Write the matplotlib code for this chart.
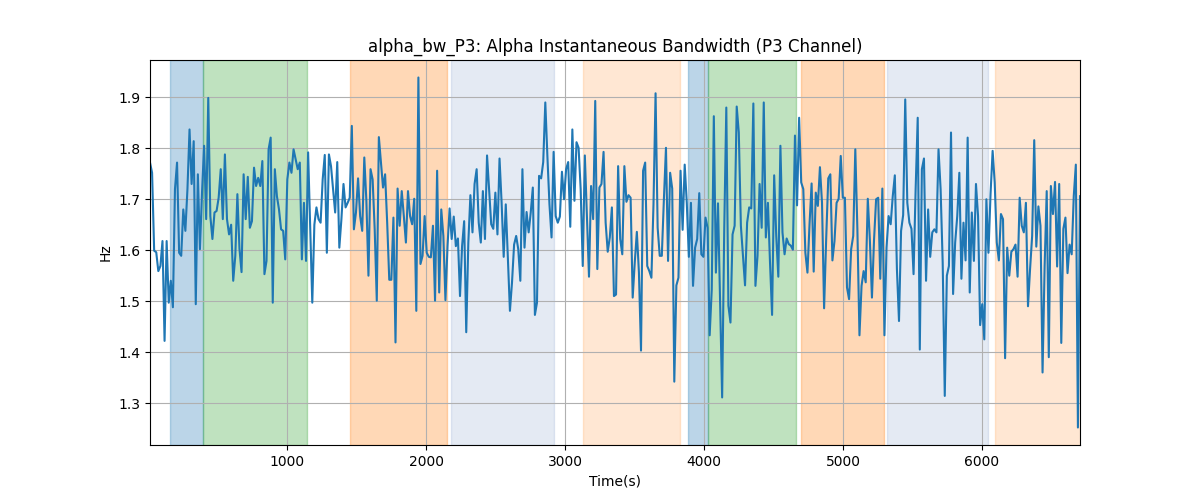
import numpy as np
import matplotlib
matplotlib.use("Agg")
import matplotlib.pyplot as plt

t_start = 14
t_end = 6705

bw_values = [
    1.772, 1.752, 1.599, 1.596, 1.559, 1.569, 1.618, 1.422, 1.618, 1.497, 1.54, 1.488, 1.72, 1.772, 1.595,
    1.589, 1.68, 1.638, 1.72, 1.837, 1.73, 1.814, 1.494, 1.749, 1.602, 1.713, 1.805, 1.661, 1.899, 1.667,
    1.622, 1.674, 1.677, 1.703, 1.759, 1.661, 1.788, 1.661, 1.631, 1.65, 1.54, 1.589, 1.71, 1.603, 1.557,
    1.749, 1.661, 1.744, 1.644, 1.657, 1.762, 1.726, 1.742, 1.726, 1.775, 1.553, 1.579, 1.798, 1.821, 1.497,
    1.759, 1.706, 1.68, 1.641, 1.638, 1.582, 1.739, 1.772, 1.752, 1.798, 1.778, 1.759, 1.772, 1.582, 1.693,
    # segment 2
    1.579, 1.792, 1.648, 1.497, 1.65, 1.684, 1.661, 1.654, 1.739, 1.787, 1.595, 1.788, 1.765, 1.72, 1.674,
    1.773, 1.605, 1.661, 1.73, 1.684, 1.693, 1.703, 1.844, 1.641, 1.674, 1.741, 1.667, 1.638, 1.782, 1.697,
    1.55, 1.759, 1.739, 1.641, 1.501, 1.822, 1.772, 1.723, 1.749, 1.654, 1.542, 1.542, 1.664, 1.419, 1.721,
    1.648, 1.716, 1.667, 1.615, 1.716, 1.667, 1.651, 1.701, 1.481, 1.939, 1.573, 1.589, 1.667, 1.595, 1.587,
    1.586, 1.648, 1.501, 1.756, 1.517, 1.68, 1.628, 1.502, 1.608, 1.682, 1.622, 1.666, 1.608, 1.623, 1.51,
    # segment 3
    1.608, 1.657, 1.439, 1.615, 1.708, 1.635, 1.73, 1.759, 1.654, 1.615, 1.716, 1.622, 1.786, 1.72, 1.651,
    1.642, 1.713, 1.631, 1.78, 1.693, 1.587, 1.69, 1.584, 1.481, 1.537, 1.611, 1.628, 1.602, 1.54, 1.759,
    1.605, 1.675, 1.635, 1.674, 1.723, 1.473, 1.497, 1.746, 1.741, 1.773, 1.89, 1.785, 1.69, 1.625, 1.793,
    1.667, 1.654, 1.666, 1.754, 1.7, 1.759, 1.773, 1.646, 1.837, 1.697, 1.812, 1.801, 1.72, 1.569, 1.786,
    1.667, 1.548, 1.726, 1.661, 1.893, 1.563, 1.723, 1.73, 1.793, 1.654, 1.597, 1.625, 1.684, 1.51,
    # segment 4
    1.513, 1.765, 1.622, 1.592, 1.765, 1.695, 1.708, 1.703, 1.507, 1.576, 1.636, 1.556, 1.403, 1.756, 1.772,
    1.569, 1.559, 1.546, 1.69, 1.908, 1.644, 1.589, 1.589, 1.7, 1.801, 1.579, 1.752, 1.721, 1.342, 1.531,
    1.546, 1.756, 1.64, 1.768, 1.693, 1.587, 1.693, 1.53, 1.605, 1.622, 1.712, 1.592, 1.587, 1.664, 1.644,
    1.433, 1.523, 1.863, 1.556, 1.692, 1.504, 1.311, 1.64, 1.88, 1.491, 1.458, 1.631, 1.648, 1.882, 1.831,
    1.648, 1.589, 1.531, 1.654, 1.684, 1.682, 1.888, 1.53, 1.589, 1.73, 1.644, 1.89, 1.625, 1.693, 1.576,
    # segment 5
    1.473, 1.747, 1.628, 1.548, 1.805, 1.635, 1.592, 1.623, 1.612, 1.609, 1.601, 1.825, 1.688, 1.86, 1.733,
    1.72, 1.595, 1.556, 1.651, 1.731, 1.558, 1.713, 1.687, 1.763, 1.693, 1.486, 1.622, 1.741, 1.749, 1.58,
    1.618, 1.693, 1.701, 1.785, 1.703, 1.703, 1.527, 1.504, 1.602, 1.628, 1.798, 1.641, 1.433, 1.53, 1.559,
    1.537, 1.701, 1.62, 1.507, 1.62, 1.7, 1.703, 1.544, 1.721, 1.433, 1.605, 1.667, 1.651, 1.706, 1.747,
    1.563, 1.461, 1.638, 1.669, 1.896, 1.693, 1.654, 1.642, 1.553, 1.72, 1.86, 1.405, 1.759, 1.78,
    # segment 6
    1.54, 1.68, 1.587, 1.635, 1.641, 1.635, 1.798, 1.72, 1.576, 1.314, 1.55, 1.569, 1.831, 1.514, 1.615,
    1.667, 1.752, 1.544, 1.654, 1.58, 1.821, 1.517, 1.674, 1.579, 1.73, 1.667, 1.453, 1.494, 1.425, 1.7,
    1.595, 1.71, 1.795, 1.733, 1.615, 1.58, 1.671, 1.661, 1.388, 1.605, 1.55, 1.597, 1.602, 1.611, 1.548,
    1.703, 1.648, 1.635, 1.693, 1.49, 1.563, 1.628, 1.816, 1.607, 1.686, 1.648, 1.36, 1.569, 1.716, 1.39,
    1.726, 1.671, 1.734, 1.568, 1.73, 1.418, 1.642, 1.664, 1.555, 1.611, 1.592, 1.706, 1.768, 1.252, 1.706,
]

span_starts = [158, 394, 1453, 2180, 3132, 3885, 4026, 4698, 5317, 6096]
span_ends = [394, 1146, 2149, 2921, 3827, 4026, 4662, 5295, 6043, 6720]
span_colors = ["tab:blue", "tab:green", "tab:orange", "#4c72b0", "tab:orange",
               "tab:blue", "tab:green", "tab:orange", "#4c72b0", "tab:orange"]
span_alphas = [0.3, 0.3, 0.3, 0.15, 0.18, 0.3, 0.3, 0.3, 0.15, 0.18]

times = np.linspace(t_start, t_end, len(bw_values))

fig, ax = plt.subplots(figsize=(12, 5), dpi=100)
for s, e, c, a in zip(span_starts, span_ends, span_colors, span_alphas):
    ax.axvspan(s, e, color=c, alpha=a, zorder=0)
ax.plot(times, bw_values, color="tab:blue", lw=1.5, zorder=2)
ax.set_xlim(times[0], times[-1])
ax.grid(True, zorder=1)
ax.set_axisbelow(True)
ax.set_title("alpha_bw_P3: Alpha Instantaneous Bandwidth (P3 Channel)")
ax.set_xlabel("Time(s)")
ax.set_ylabel("Hz")
fig.savefig("out.png")
